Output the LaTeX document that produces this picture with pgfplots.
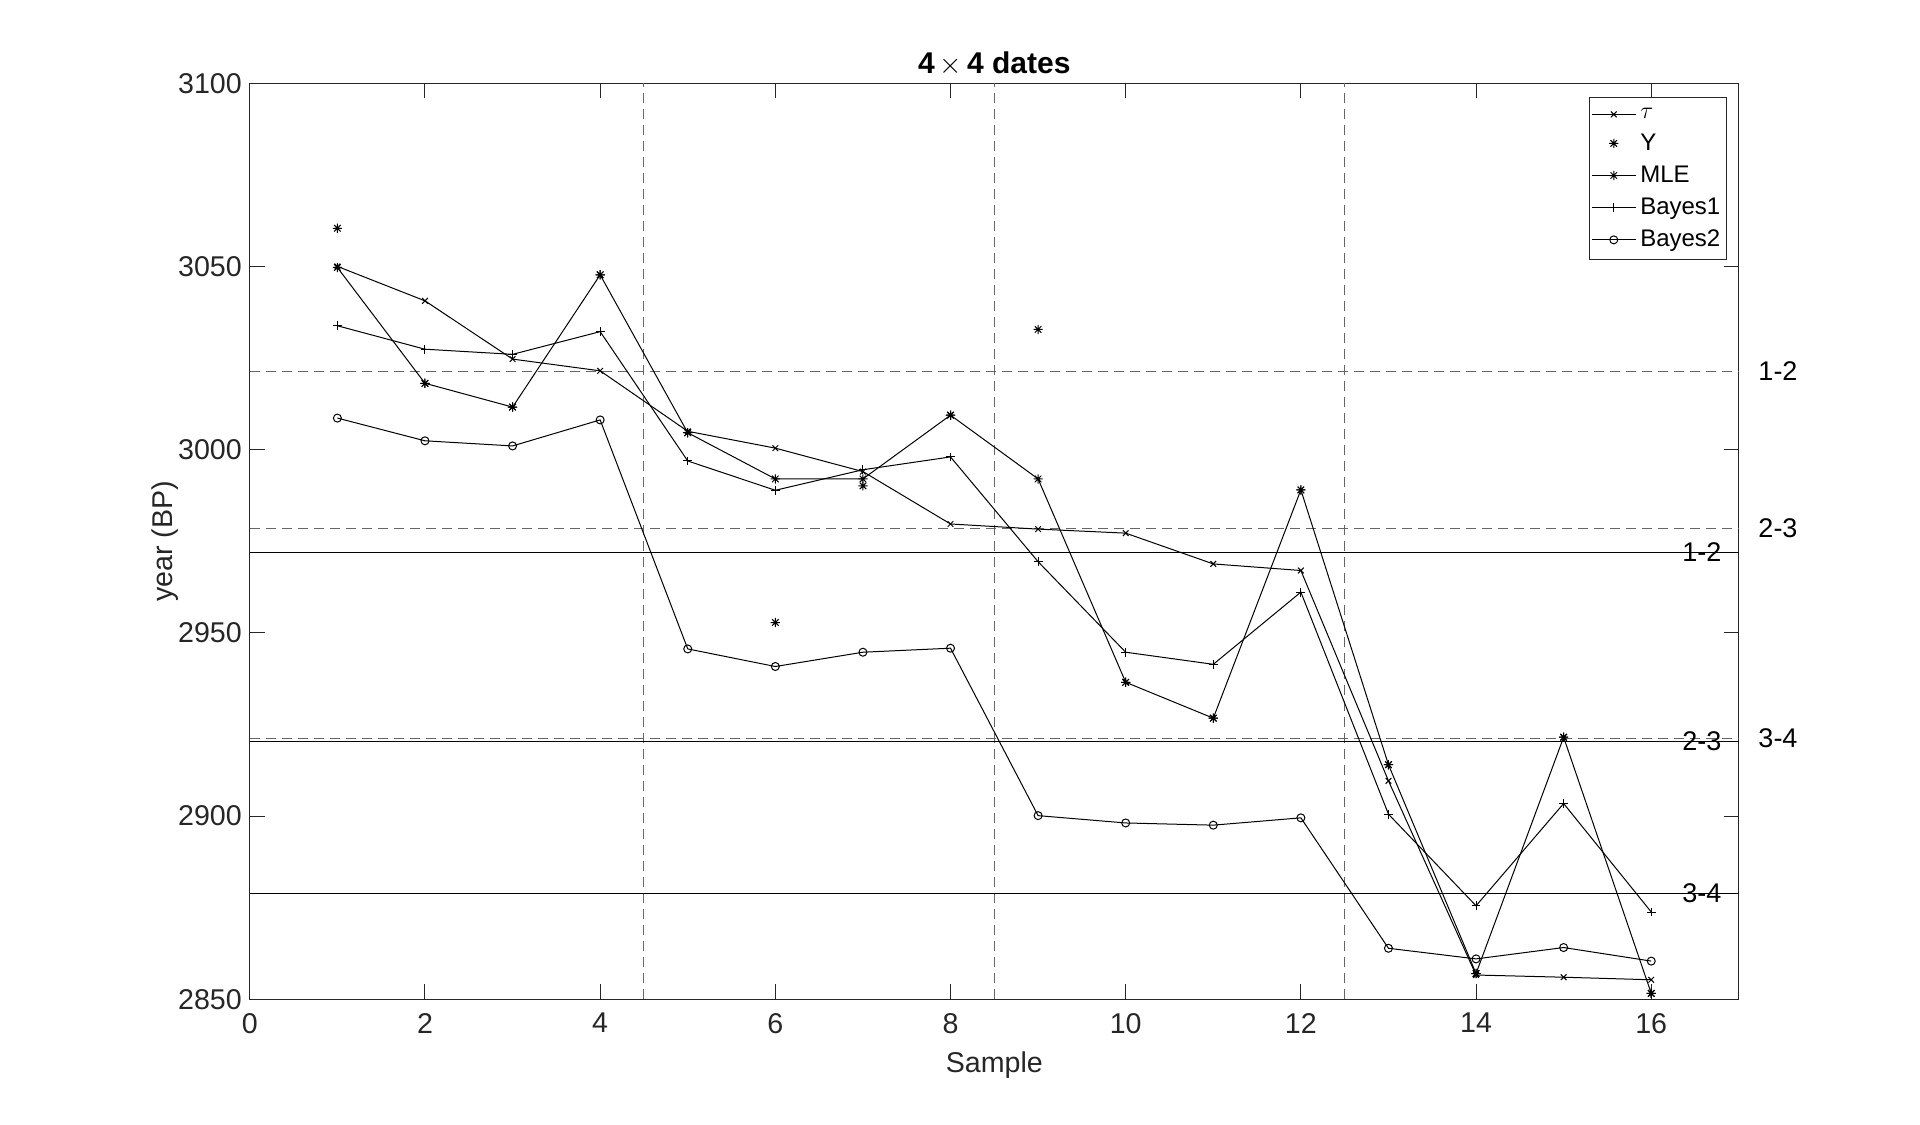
\documentclass[border=0pt]{standalone}
\usepackage{pgfplots}
\pgfplotsset{compat=1.18}
\usepackage{fontspec}
\setmainfont{Liberation Sans}
\definecolor{axgray}{rgb}{0.15,0.15,0.15}
\definecolor{dashcol}{rgb}{0.4,0.4,0.4}
\pgfdeclareplotmark{mstar}{%
  \pgfpathmoveto{\pgfqpoint{-\pgfplotmarksize}{0pt}}\pgfpathlineto{\pgfqpoint{\pgfplotmarksize}{0pt}}%
  \pgfpathmoveto{\pgfqpoint{0pt}{-\pgfplotmarksize}}\pgfpathlineto{\pgfqpoint{0pt}{\pgfplotmarksize}}%
  \pgfpathmoveto{\pgfqpoint{-0.707\pgfplotmarksize}{-0.707\pgfplotmarksize}}\pgfpathlineto{\pgfqpoint{0.707\pgfplotmarksize}{0.707\pgfplotmarksize}}%
  \pgfpathmoveto{\pgfqpoint{-0.707\pgfplotmarksize}{0.707\pgfplotmarksize}}\pgfpathlineto{\pgfqpoint{0.707\pgfplotmarksize}{-0.707\pgfplotmarksize}}%
  \pgfusepathqstroke}
\begin{document}
\begin{tikzpicture}
\path[use as bounding box] (-124.9pt,-62.4pt) rectangle (835.1pt,499.6pt);
\begin{axis}[
  at={(0,0)}, anchor=south west,
  scale only axis, width=744.5pt, height=458pt,
  xmin=0, xmax=17, ymin=2850, ymax=3100,
  xtick={0,2,...,16}, ytick={2850,2900,...,3100},
  tick align=inside, major tick length=7.5pt,
  axis line style={draw=axgray, line width=0.5pt},
  every tick/.style={axgray, line width=0.5pt},
  tick label style={font=\fontsize{14.3}{17}\selectfont, text=axgray},
  xticklabel style={yshift=-3.5pt},
  yticklabel style={xshift=-0.5pt},
  /pgf/number format/assume math mode=true,
  /pgf/number format/1000 sep={},
  xlabel={Sample}, ylabel={year (BP)},
  xlabel style={at={(axis description cs:0.5,-0.0721)}, anchor=center, font=\fontsize{14.3}{17}\selectfont, text=axgray},
  ylabel style={at={(axis description cs:-0.0571,0.5)}, anchor=center, font=\fontsize{14.3}{17}\selectfont, text=axgray},
  title={4\,$\times$\,4 dates},
  title style={at={(axis description cs:0.5,1)}, anchor=base, yshift=-1pt, font=\bfseries\fontsize{15}{18}\selectfont},
  clip=false,
  legend style={at={(axis description cs:1,1)}, anchor=north east, xshift=-6pt, yshift=-7pt,
    draw=axgray, line width=0.5pt, fill=white, font=\fontsize{12}{14}\selectfont,
    row sep=2.3pt, inner xsep=1pt, inner ysep=3pt},
  legend cell align=left,
  legend image code/.code={\draw[mark repeat=2,mark phase=2] plot coordinates {(0pt,0pt)(11pt,0pt)(22pt,0pt)};},
  every axis plot/.append style={line width=0.5pt},
]
% reference lines
\addplot[forget plot, dashcol, dash pattern=on 5pt off 3pt] coordinates {(4.5,2850) (4.5,3100)};
\addplot[forget plot, dashcol, dash pattern=on 5pt off 3pt] coordinates {(8.5,2850) (8.5,3100)};
\addplot[forget plot, dashcol, dash pattern=on 5pt off 3pt] coordinates {(12.5,2850) (12.5,3100)};
\addplot[forget plot, dashcol, dash pattern=on 5pt off 3pt] coordinates {(0,3021.4) (17,3021.4)};
\addplot[forget plot, dashcol, dash pattern=on 5pt off 3pt] coordinates {(0,2978.5) (17,2978.5)};
\addplot[forget plot, dashcol, dash pattern=on 5pt off 3pt] coordinates {(0,2921.1) (17,2921.1)};
\addplot[forget plot, black] coordinates {(0,2972.0) (17,2972.0)};
\addplot[forget plot, black] coordinates {(0,2920.4) (17,2920.4)};
\addplot[forget plot, black] coordinates {(0,2878.8) (17,2878.8)};
% data
\addplot[black, mark=x, mark size=2pt] coordinates {
 (1,3050.0) (2,3040.6) (3,3024.7) (4,3021.5) (5,3005.0) (6,3000.4) (7,2994.0) (8,2979.7)
 (9,2978.3) (10,2977.2) (11,2968.8) (12,2967.0) (13,2909.6) (14,2856.6) (15,2856.0) (16,2855.3)};
\addlegendentry{$\tau$}
\addplot[black, only marks, mark=mstar, mark size=2.3pt] coordinates {
 (1,3060.4) (2,3018.1) (3,3011.6) (4,3047.7) (5,3004.6) (6,2952.8) (7,2990.1) (8,3009.4)
 (9,3032.8) (10,2936.5) (11,2926.7) (12,2989.0) (13,2914.0) (14,2857.0) (15,2921.5) (16,2851.6)};
\addlegendentry{Y}
\addplot[black, mark=mstar, mark size=2.3pt] coordinates {
 (1,3049.7) (2,3018.1) (3,3011.6) (4,3047.7) (5,3004.6) (6,2992.0) (7,2992.0) (8,3009.4)
 (9,2992.0) (10,2936.5) (11,2926.7) (12,2989.0) (13,2914.0) (14,2857.0) (15,2921.5) (16,2851.6)};
\addlegendentry{MLE}
\addplot[black, mark=+, mark size=2.2pt] coordinates {
 (1,3033.8) (2,3027.4) (3,3026.0) (4,3032.2) (5,2996.9) (6,2988.9) (7,2994.5) (8,2998.0)
 (9,2969.4) (10,2944.7) (11,2941.4) (12,2961.1) (13,2900.5) (14,2875.5) (15,2903.4) (16,2873.8)};
\addlegendentry{Bayes1}
\addplot[black, mark=o, mark size=2pt] coordinates {
 (1,3008.6) (2,3002.4) (3,3001.0) (4,3008.1) (5,2945.6) (6,2940.8) (7,2944.7) (8,2945.8)
 (9,2900.1) (10,2898.1) (11,2897.5) (12,2899.5) (13,2863.9) (14,2861.0) (15,2864.1) (16,2860.4)};
\addlegendentry{Bayes2}
% line labels
\node[anchor=west, inner sep=0pt, font=\fontsize{13.5}{16}\selectfont] at (axis cs:17.22,3021.4) {1-2};
\node[anchor=west, inner sep=0pt, font=\fontsize{13.5}{16}\selectfont] at (axis cs:17.22,2978.5) {2-3};
\node[anchor=west, inner sep=0pt, font=\fontsize{13.5}{16}\selectfont] at (axis cs:17.22,2921.1) {3-4};
\node[anchor=west, inner sep=0pt, font=\fontsize{13.5}{16}\selectfont] at (axis cs:16.35,2972.0) {1-2};
\node[anchor=west, inner sep=0pt, font=\fontsize{13.5}{16}\selectfont] at (axis cs:16.35,2920.4) {2-3};
\node[anchor=west, inner sep=0pt, font=\fontsize{13.5}{16}\selectfont] at (axis cs:16.35,2878.8) {3-4};
\end{axis}
\end{tikzpicture}
\end{document}
